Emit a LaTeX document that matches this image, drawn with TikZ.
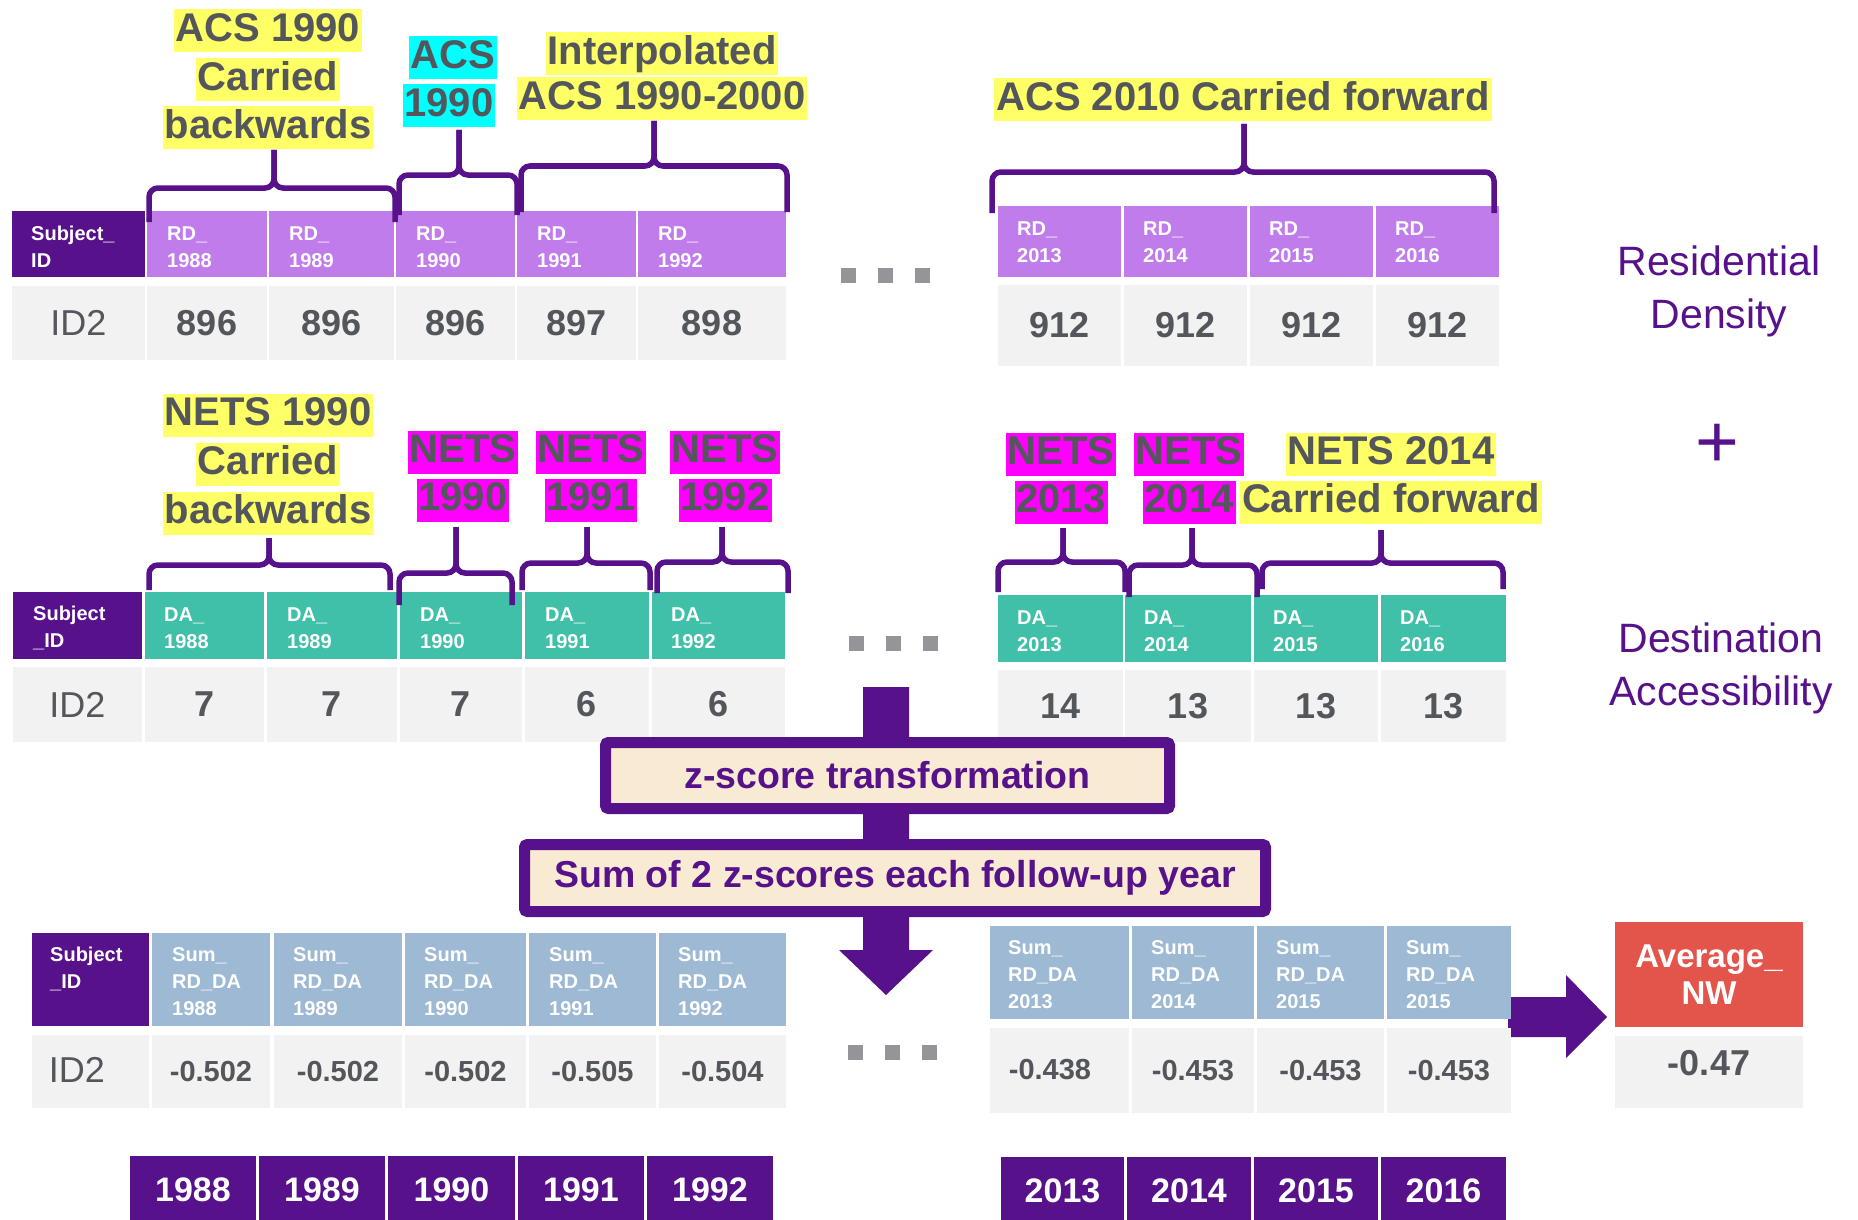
\documentclass[tikz,border=0pt]{standalone}
\usepackage{fontspec}
\setmainfont{Liberation Sans}
\usetikzlibrary{shadows}
\definecolor{pur}{HTML}{57118A}
\definecolor{lav}{HTML}{C17CEB}
\definecolor{tealc}{HTML}{40C0A9}
\definecolor{steel}{HTML}{9DB9D4}
\definecolor{cellg}{HTML}{F2F2F2}
\definecolor{txtg}{HTML}{53565B}
\definecolor{cream}{HTML}{F9EBD3}
\definecolor{redc}{HTML}{E3554B}
\definecolor{hly}{HTML}{FFFF66}
\definecolor{hlc}{HTML}{00FFFF}
\definecolor{hlm}{HTML}{FF00FF}
\definecolor{dotg}{HTML}{939598}
\newcommand\fs[1]{\fontsize{#1}{#1}\selectfont}
% name, x1, y1, x2, y2, style, text
\newcommand\mkcell[7]{\pgfmathsetmacro\cw{#4-#2}\pgfmathsetmacro\ch{#5-#3}%
  \node[#6,minimum width=\cw pt,minimum height=\ch pt,anchor=north west,inner sep=0pt,outer sep=0pt] (#1) at (#2,#3) {#7};}
% x1, x2, ytop, ybot, xm, ytip
\newcommand\bracket[6]{%
  \draw[brc] (#1,#4) -- (#1,#3) -- (#5,#3) -- (#5,#6);
  \draw[brc] (#5,#6) -- (#5,#3) -- (#2,#3) -- (#2,#4);}
\begin{document}
\begin{tikzpicture}[x=1pt,y=-1pt,
  valcell/.style={fill=cellg,text=txtg,font=\bfseries\fs{36}},
  idcell/.style={fill=cellg,text=txtg,font=\fs{36}},
  sumval/.style={fill=cellg,text=txtg,font=\bfseries\fs{29}},
  subjcell/.style={fill=pur},
  rdcell/.style={fill=lav},
  dacell/.style={fill=tealc},
  sumcell/.style={fill=steel},
  yrcell/.style={fill=pur,text=white,font=\bfseries\fs{34}},
  hdtxt/.style={text=white,font=\bfseries\fontsize{20}{27}\selectfont,align=left,inner sep=0pt,anchor=west},
  hl/.style={fill=#1,text=txtg,font=\bfseries\fs{40},inner xsep=2pt,inner ysep=3pt,text height=29pt,text depth=8pt},
  brc/.style={draw=pur,line width=5.5pt,rounded corners=9pt},
  sq/.style={fill=dotg,minimum size=15pt,inner sep=0pt},
  sidelbl/.style={text=pur,font=\fontsize{41}{53}\selectfont,align=center},
  stepbox/.style={draw=pur,line width=11pt,fill=cream,text=pur,font=\bfseries\fs{37.5},rounded corners=3pt,inner sep=0pt,
    drop shadow={opacity=0.3,shadow xshift=4pt,shadow yshift=-4pt}}
]
\useasboundingbox (0,0) rectangle (1858,1220);
\fill[white] (0,0) rectangle (1858,1220);

% ===== Row 1: Residential density =====
\mkcell{subjA}{12}{211}{145}{277}{subjcell}{}
\mkcell{rd88}{147}{211}{267}{277}{rdcell}{}
\mkcell{rd89}{269}{211}{394}{277}{rdcell}{}
\mkcell{rd90}{396}{211}{515}{277}{rdcell}{}
\mkcell{rd91}{517}{211}{636}{277}{rdcell}{}
\mkcell{rd92}{638}{211}{786}{277}{rdcell}{}
\mkcell{rd13}{998}{206}{1121}{277}{rdcell}{}
\mkcell{rd14}{1124}{206}{1247}{277}{rdcell}{}
\mkcell{rd15}{1250}{206}{1373}{277}{rdcell}{}
\mkcell{rd16}{1376}{206}{1499}{277}{rdcell}{}
\node[hdtxt] (tsubjA) at (31,247) {Subject\_\\ID};
\node[hdtxt] (trd88) at (167,247) {RD\_\\1988};
\node[hdtxt] (trd89) at (289,247) {RD\_\\1989};
\node[hdtxt] (trd90) at (416,247) {RD\_\\1990};
\node[hdtxt] (trd91) at (537,247) {RD\_\\1991};
\node[hdtxt] (trd92) at (658,247) {RD\_\\1992};
\node[hdtxt] (trd13) at (1017,242) {RD\_\\2013};
\node[hdtxt] (trd14) at (1143,242) {RD\_\\2014};
\node[hdtxt] (trd15) at (1269,242) {RD\_\\2015};
\node[hdtxt] (trd16) at (1395,242) {RD\_\\2016};
\mkcell{vidA}{12}{286}{145}{360}{idcell}{ID2}
\mkcell{vrd88}{147}{286}{267}{360}{valcell}{896}
\mkcell{vrd89}{269}{286}{394}{360}{valcell}{896}
\mkcell{vrd90}{396}{286}{515}{360}{valcell}{896}
\mkcell{vrd91}{517}{286}{636}{360}{valcell}{897}
\mkcell{vrd92}{638}{286}{786}{360}{valcell}{898}
\mkcell{vrd13}{998}{285}{1121}{366}{valcell}{912}
\mkcell{vrd14}{1124}{285}{1247}{366}{valcell}{912}
\mkcell{vrd15}{1250}{285}{1373}{366}{valcell}{912}
\mkcell{vrd16}{1376}{285}{1499}{366}{valcell}{912}

% labels row 1
\node[hl=hly] (la1) at (268,31) {ACS 1990};
\node[hl=hly] (la2) at (268,80) {Carried};
\node[hl=hly] (la3) at (268,128) {backwards};
\node[hl=hlc] (lb1) at (453,58) {ACS};
\node[hl=hlc] (lb2) at (449,106) {1990};
\node[hl=hly] (lc1) at (662,54) {Interpolated};
\node[hl=hly] (lc2) at (662,99) {ACS 1990-2000};
\node[hl=hly] (ld1) at (1243,100) {ACS 2010 Carried forward};

\bracket{149}{395}{188}{222}{274}{150}
\bracket{399}{517}{175}{215}{459}{130}
\bracket{521}{787}{166}{212}{654}{121}
\bracket{992}{1494}{172}{213}{1244}{124}

\node[sq] (d1a) at (848,275) {};
\node[sq] (d1b) at (885,275) {};
\node[sq] (d1c) at (922,275) {};

\node[sidelbl] (res) at (1719,291) {Residential\\Density};
\node[text=pur,font=\fs{75}] (plus) at (1717,446) {+};
\node[sidelbl] (dest) at (1721,668) {Destination\\Accessibility};

% ===== Row 2: Destination accessibility =====
\mkcell{subjB}{13}{592}{142}{659}{subjcell}{}
\mkcell{da88}{145}{592}{264}{659}{dacell}{}
\mkcell{da89}{267}{592}{397}{659}{dacell}{}
\mkcell{da90}{400}{592}{522}{659}{dacell}{}
\mkcell{da91}{525}{592}{649}{659}{dacell}{}
\mkcell{da92}{652}{592}{785}{659}{dacell}{}
\mkcell{da13}{998}{595}{1123}{662}{dacell}{}
\mkcell{da14}{1125}{595}{1251}{662}{dacell}{}
\mkcell{da15}{1254}{595}{1378}{662}{dacell}{}
\mkcell{da16}{1381}{595}{1506}{662}{dacell}{}
\node[hdtxt] (tsubjB) at (33,628) {Subject\\\_ID};
\node[hdtxt] (tda88) at (164,628) {DA\_\\1988};
\node[hdtxt] (tda89) at (287,628) {DA\_\\1989};
\node[hdtxt] (tda90) at (420,628) {DA\_\\1990};
\node[hdtxt] (tda91) at (545,628) {DA\_\\1991};
\node[hdtxt] (tda92) at (671,628) {DA\_\\1992};
\node[hdtxt] (tda13) at (1017,631) {DA\_\\2013};
\node[hdtxt] (tda14) at (1144,631) {DA\_\\2014};
\node[hdtxt] (tda15) at (1273,631) {DA\_\\2015};
\node[hdtxt] (tda16) at (1400,631) {DA\_\\2016};
\mkcell{vidB}{13}{667}{142}{742}{idcell}{ID2}
\mkcell{vda88}{145}{667}{264}{742}{valcell}{7}
\mkcell{vda89}{267}{667}{397}{742}{valcell}{7}
\mkcell{vda90}{400}{667}{522}{742}{valcell}{7}
\mkcell{vda91}{525}{667}{649}{742}{valcell}{6}
\mkcell{vda92}{652}{667}{785}{742}{valcell}{6}
\mkcell{vda13}{998}{670}{1123}{742}{valcell}{14}
\mkcell{vda14}{1125}{670}{1251}{742}{valcell}{13}
\mkcell{vda15}{1254}{670}{1378}{742}{valcell}{13}
\mkcell{vda16}{1381}{670}{1506}{742}{valcell}{13}

% labels row 2
\node[hl=hly] (le1) at (268,415) {NETS 1990};
\node[hl=hly] (le2) at (268,464) {Carried};
\node[hl=hly] (le3) at (268,513) {backwards};
\node[hl=hlm] (lf1) at (463,452) {NETS};
\node[hl=hlm] (lf2) at (463,500) {1990};
\node[hl=hlm] (lg1) at (591,452) {NETS};
\node[hl=hlm] (lg2) at (591,500) {1991};
\node[hl=hlm] (lh1) at (725,452) {NETS};
\node[hl=hlm] (lh2) at (725,500) {1992};
\node[hl=hlm] (li1) at (1061,454) {NETS};
\node[hl=hlm] (li2) at (1061,502) {2013};
\node[hl=hlm] (lj1) at (1189,454) {NETS};
\node[hl=hlm] (lj2) at (1189,502) {2014};
\node[hl=hly] (lk1) at (1391,454) {NETS 2014};
\node[hl=hly] (lk2) at (1391,502) {Carried forward};

\bracket{149}{390}{565}{590}{269}{538}
\bracket{399}{512}{573}{605}{456}{527}
\bracket{522}{650}{563}{590}{587}{527}
\bracket{657}{788}{562}{593}{722}{527}
\bracket{998}{1125}{562}{592}{1063}{528}
\bracket{1129}{1257}{565}{597}{1192}{528}
\bracket{1262}{1503}{563}{589}{1381}{530}

\node[sq] (d2a) at (856,643) {};
\node[sq] (d2b) at (893,643) {};
\node[sq] (d2c) at (930,643) {};

% ===== central arrow and process boxes =====
\fill[pur] (863,687) -- (909,687) -- (909,950) -- (933,950) -- (886,995) -- (839,950) -- (863,950) -- cycle;
\node[stepbox,minimum width=564pt,minimum height=66pt] (zs) at (887.5,775.5) {z-score transformation};
\node[stepbox,minimum width=741pt,minimum height=67pt] (sumz) at (895,878) {Sum of 2 z-scores each follow-up year};

% ===== Row 3: Sum =====
\fill[pur] (1508,997) -- (1566,997) -- (1566,975) -- (1607,1017) -- (1566,1058) -- (1566,1037) -- (1508,1037) -- cycle;
\mkcell{subjC}{32}{933}{149}{1026}{subjcell}{}
\mkcell{s88}{152}{933}{270}{1026}{sumcell}{}
\mkcell{s89}{274}{933}{402}{1026}{sumcell}{}
\mkcell{s90}{405}{933}{526}{1026}{sumcell}{}
\mkcell{s91}{529}{933}{656}{1026}{sumcell}{}
\mkcell{s92}{659}{933}{786}{1026}{sumcell}{}
\mkcell{s13}{990}{926}{1129}{1019}{sumcell}{}
\mkcell{s14}{1132}{926}{1254}{1019}{sumcell}{}
\mkcell{s15}{1257}{926}{1384}{1019}{sumcell}{}
\mkcell{s16}{1387}{926}{1511}{1019}{sumcell}{}
\node[hdtxt] (tsubjC) at (50,969) {Subject\\\_ID};
\node[hdtxt] (ts88) at (172,982) {Sum\_\\RD\_DA\\1988};
\node[hdtxt] (ts89) at (293,982) {Sum\_\\RD\_DA\\1989};
\node[hdtxt] (ts90) at (424,982) {Sum\_\\RD\_DA\\1990};
\node[hdtxt] (ts91) at (549,982) {Sum\_\\RD\_DA\\1991};
\node[hdtxt] (ts92) at (678,982) {Sum\_\\RD\_DA\\1992};
\node[hdtxt] (ts13) at (1008,975) {Sum\_\\RD\_DA\\2013};
\node[hdtxt] (ts14) at (1151,975) {Sum\_\\RD\_DA\\2014};
\node[hdtxt] (ts15) at (1276,975) {Sum\_\\RD\_DA\\2015};
\node[hdtxt] (ts16) at (1406,975) {Sum\_\\RD\_DA\\2015};
\mkcell{vidC}{32}{1035}{149}{1108}{idcell}{}
\node[text=txtg,font=\fs{36}] (tidC) at (77,1070) {ID2};
\mkcell{vs88}{152}{1035}{270}{1108}{sumval}{-0.502}
\mkcell{vs89}{274}{1035}{402}{1108}{sumval}{-0.502}
\mkcell{vs90}{405}{1035}{526}{1108}{sumval}{-0.502}
\mkcell{vs91}{529}{1035}{656}{1108}{sumval}{-0.505}
\mkcell{vs92}{659}{1035}{786}{1108}{sumval}{-0.504}
\mkcell{vs13}{990}{1028}{1129}{1113}{sumval}{}
\node[text=txtg,font=\bfseries\fs{29}] (tvs13) at (1050,1070) {-0.438};
\mkcell{vs14}{1132}{1028}{1254}{1113}{sumval}{-0.453}
\mkcell{vs15}{1257}{1028}{1384}{1113}{sumval}{-0.453}
\mkcell{vs16}{1387}{1028}{1511}{1113}{sumval}{-0.453}

\node[sq] (d3a) at (855,1052) {};
\node[sq] (d3b) at (892,1052) {};
\node[sq] (d3c) at (929,1052) {};

\mkcell{avg}{1615}{922}{1803}{1027}{fill=redc,text=white,font=\bfseries\fontsize{33}{37}\selectfont,align=center}{Average\_\\NW}
\mkcell{avgv}{1615}{1036}{1803}{1108}{fill=cellg}{}
\node[text=txtg,font=\bfseries\fs{36}] (tavg) at (1709,1063) {-0.47};

% ===== year boxes =====
\mkcell{y88}{130}{1156}{256}{1224}{yrcell}{1988}
\mkcell{y89}{259}{1156}{385}{1224}{yrcell}{1989}
\mkcell{y90}{388}{1156}{515}{1224}{yrcell}{1990}
\mkcell{y91}{518}{1156}{644}{1224}{yrcell}{1991}
\mkcell{y92}{647}{1156}{773}{1224}{yrcell}{1992}
\mkcell{y13}{1001}{1157}{1124}{1224}{yrcell}{2013}
\mkcell{y14}{1127}{1157}{1251}{1224}{yrcell}{2014}
\mkcell{y15}{1254}{1157}{1378}{1224}{yrcell}{2015}
\mkcell{y16}{1381}{1157}{1506}{1224}{yrcell}{2016}
\end{tikzpicture}
\end{document}
